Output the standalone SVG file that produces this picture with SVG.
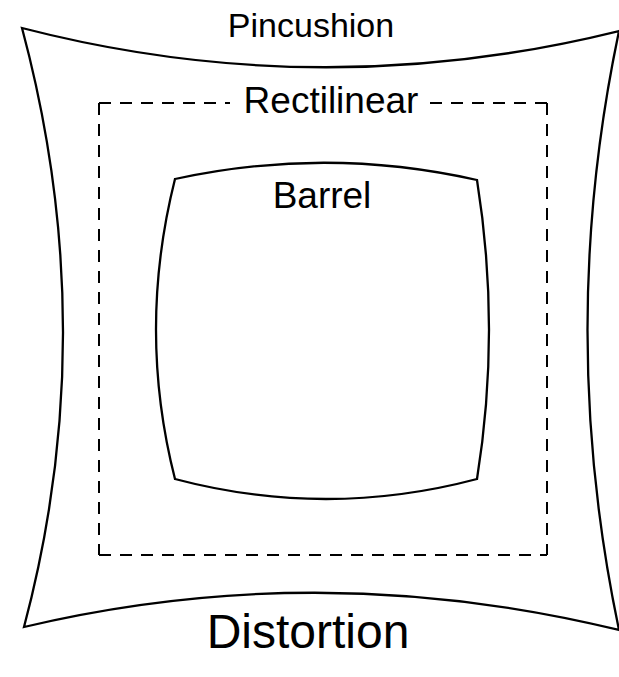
<svg xmlns="http://www.w3.org/2000/svg" width="619" height="677" viewBox="0 0 619 677">
<style>
.shape{fill:none;stroke:#000;stroke-width:2.3;stroke-linejoin:miter}
.dash{fill:none;stroke:#000;stroke-width:2;stroke-dasharray:12 9}
.lbl{font-family:"Liberation Sans",Arial,sans-serif;fill:#000;text-anchor:middle}
</style>
<rect width="619" height="677" fill="#fff"/>
<g id="pincushion">
<path class="shape" d="M22,28 Q320,105 619,31 Q556,330 619,630 Q320,557 24,627 Q103,330 22,28 Z"/>
<text class="lbl" x="311" y="37" font-size="34">Pincushion</text>
</g>
<g id="rectilinear">
<line class="dash" x1="99" y1="103" x2="99" y2="555"/>
<line class="dash" x1="99" y1="555" x2="547" y2="555"/>
<line class="dash" x1="547" y1="103" x2="547" y2="555"/>
<line class="dash" x1="99" y1="103" x2="230" y2="103"/>
<line class="dash" x1="547" y1="103" x2="428" y2="103"/>
<text class="lbl" x="331" y="113" font-size="37">Rectilinear</text>
</g>
<g id="barrel">
<path class="shape" d="M175,179 Q326,146 477,180 Q501,330 477,479 Q326,519 175,479 Q137,330 175,179 Z"/>
<text class="lbl" x="322" y="208" font-size="37">Barrel</text>
</g>
<g id="title">
<text class="lbl" x="308" y="648" font-size="48">Distortion</text>
</g>
</svg>
